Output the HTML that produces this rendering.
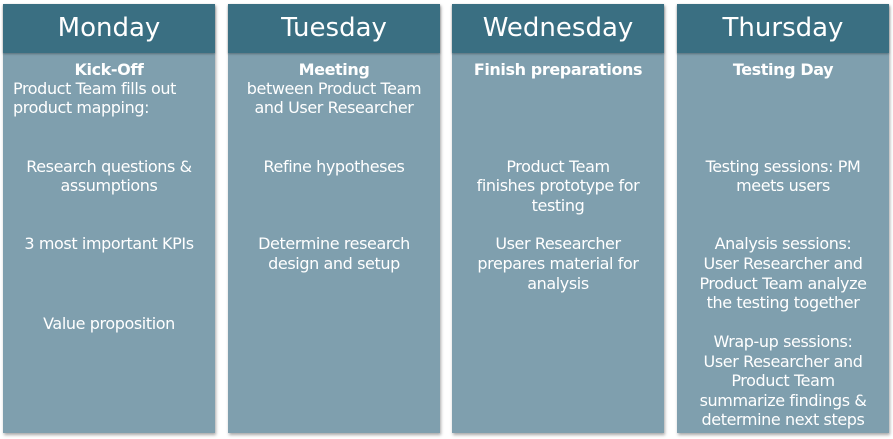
<!DOCTYPE html>
<html><head><meta charset="utf-8"><style>
body{margin:0;width:893px;height:439px;background:#fff;position:relative;overflow:hidden;font-family:"DejaVu Sans","Liberation Sans",sans-serif;}
.col{position:absolute;top:4px;width:212px;height:429px;background:#7f9fae;box-shadow:1px 2px 3px rgba(0,0,0,0.35);}
.hd{position:absolute;left:0;top:0;width:100%;height:49px;background:#3a6f82;color:#fff;font-size:26px;text-align:center;line-height:49px;box-shadow:0 1px 2px rgba(0,0,0,0.3);}
.l{position:absolute;left:0;width:100%;text-align:center;color:#fff;font-size:16px;line-height:20px;white-space:nowrap;letter-spacing:-0.4px;}
.b{font-weight:bold;}
</style></head><body>
<div class="col" style="left:3px">
<div class="hd">Monday</div>
<div class="l b" style="top:56px">Kick-Off</div>
<div class="l" style="top:75px;text-align:left;left:10px">Product Team fills out</div>
<div class="l" style="top:94px;text-align:left;left:10px">product mapping:</div>
<div class="l" style="top:153px">Research questions &amp;</div>
<div class="l" style="top:172px">assumptions</div>
<div class="l" style="top:230px">3 most important KPIs</div>
<div class="l" style="top:310px">Value proposition</div>
</div>
<div class="col" style="left:228px">
<div class="hd">Tuesday</div>
<div class="l b" style="top:56px">Meeting</div>
<div class="l" style="top:75px">between Product Team</div>
<div class="l" style="top:94px">and User Researcher</div>
<div class="l" style="top:153px">Refine hypotheses</div>
<div class="l" style="top:230px">Determine research</div>
<div class="l" style="top:250px">design and setup</div>
</div>
<div class="col" style="left:452px">
<div class="hd">Wednesday</div>
<div class="l b" style="top:56px">Finish preparations</div>
<div class="l" style="top:153px">Product Team</div>
<div class="l" style="top:172px">finishes prototype for</div>
<div class="l" style="top:192px">testing</div>
<div class="l" style="top:230px">User Researcher</div>
<div class="l" style="top:250px">prepares material for</div>
<div class="l" style="top:270px">analysis</div>
</div>
<div class="col" style="left:677px">
<div class="hd">Thursday</div>
<div class="l b" style="top:56px">Testing Day</div>
<div class="l" style="top:153px">Testing sessions: PM</div>
<div class="l" style="top:172px">meets users</div>
<div class="l" style="top:230px">Analysis sessions:</div>
<div class="l" style="top:250px">User Researcher and</div>
<div class="l" style="top:270px">Product Team analyze</div>
<div class="l" style="top:289px">the testing together</div>
<div class="l" style="top:328px">Wrap-up sessions:</div>
<div class="l" style="top:348px">User Researcher and</div>
<div class="l" style="top:367px">Product Team</div>
<div class="l" style="top:387px">summarize findings &amp;</div>
<div class="l" style="top:406px">determine next steps</div>
</div>
</body></html>
